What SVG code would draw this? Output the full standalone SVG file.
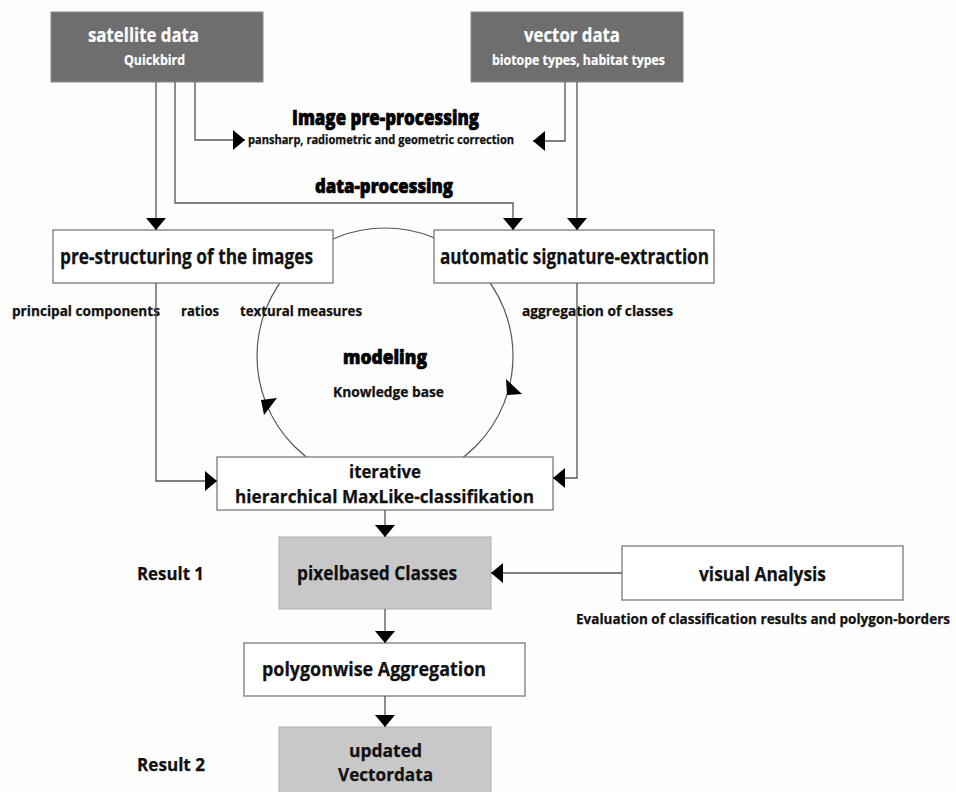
<svg xmlns="http://www.w3.org/2000/svg" width="956" height="792" viewBox="0 0 956 792">
  <defs>
    <marker id="arrow" viewBox="0 0 12 20" refX="12" refY="10" markerWidth="12" markerHeight="20" markerUnits="userSpaceOnUse" orient="auto">
      <path d="M0,0 L12,10 L0,20 z" fill="#000"/>
    </marker>
    <style>
      text { font-family: "Open Sans", "Liberation Sans", sans-serif; font-weight: 700; fill: #111; stroke: #111; stroke-width: 0.25; }
      .src { fill: #6e6e6e; stroke: #8a8a8a; stroke-width: 1; }
      .box { fill: #fff; stroke: #7a7a7a; stroke-width: 1.3; }
      .res { fill: #c8c8c8; stroke: #b0b0b0; stroke-width: 1; }
      text.wt { fill: #fff; stroke: #fff; stroke-width: 0.2; }
      text.h { font-weight: 800; fill: #000; stroke: #000; stroke-width: 0.7; }
      .conn { fill: none; stroke: #555; stroke-width: 1.3; marker-end: url(#arrow); }
      .ring { fill: none; stroke: #555; stroke-width: 1.2; }
    </style>
  </defs>
  <rect width="956" height="792" fill="#fdfdfd"/>

  <!-- modeling cycle (partly hidden behind the boxes) -->
  <g id="cycle">
    <circle class="ring" cx="385" cy="356" r="128"/>
    <polygon points="261,400 277,398 264,415" fill="#000"/>
    <polygon points="506,379 522,394 507,395" fill="#000"/>
  </g>

  <g id="satellite">
    <rect class="src" x="51" y="12" width="212" height="70"/>
    <text class="wt" x="88" y="42" font-size="19" textLength="111" lengthAdjust="spacingAndGlyphs">satellite data</text>
    <text class="wt" x="124" y="65" font-size="13.5" textLength="61" lengthAdjust="spacingAndGlyphs">Quickbird</text>
  </g>

  <g id="vector">
    <rect class="src" x="471" y="12" width="212" height="70"/>
    <text class="wt" x="524" y="42" font-size="19" textLength="96" lengthAdjust="spacingAndGlyphs">vector data</text>
    <text class="wt" x="492" y="65" font-size="13.5" textLength="173" lengthAdjust="spacingAndGlyphs">biotope types, habitat types</text>
  </g>

  <g id="preprocessing">
    <text class="h" x="292" y="125" font-size="21" textLength="187" lengthAdjust="spacingAndGlyphs">Image pre-processing</text>
    <text x="248" y="144" font-size="12" textLength="266" lengthAdjust="spacingAndGlyphs">pansharp, radiometric and geometric correction</text>
  </g>

  <g id="dataprocessing">
    <text class="h" x="315" y="193" font-size="20" textLength="138" lengthAdjust="spacingAndGlyphs">data-processing</text>
  </g>

  <g id="prestructuring">
    <rect class="box" x="53" y="230" width="280" height="53"/>
    <text x="60" y="264" font-size="20.5" textLength="253" lengthAdjust="spacingAndGlyphs">pre-structuring of the images</text>
  </g>

  <g id="signature">
    <rect class="box" x="434" y="230" width="280" height="53"/>
    <text x="440" y="264" font-size="20.5" textLength="269" lengthAdjust="spacingAndGlyphs">automatic signature-extraction</text>
  </g>

  <g id="features">
    <text x="12" y="316" font-size="13.5" textLength="148" lengthAdjust="spacingAndGlyphs">principal components</text>
    <text x="181" y="316" font-size="13.5" textLength="38" lengthAdjust="spacingAndGlyphs">ratios</text>
    <text x="240" y="316" font-size="13.5" textLength="122" lengthAdjust="spacingAndGlyphs">textural measures</text>
    <text x="522" y="316" font-size="13.5" textLength="151" lengthAdjust="spacingAndGlyphs">aggregation of classes</text>
  </g>

  <g id="modeling">
    <text class="h" x="343" y="364" font-size="20" textLength="84" lengthAdjust="spacingAndGlyphs">modeling</text>
    <text x="333" y="397" font-size="13.5" textLength="111" lengthAdjust="spacingAndGlyphs">Knowledge base</text>
  </g>

  <g id="classification">
    <rect class="box" x="217" y="457" width="336" height="53"/>
    <text x="349" y="478" font-size="18" textLength="72" lengthAdjust="spacingAndGlyphs">iterative</text>
    <text x="235" y="503" font-size="18.5" textLength="299" lengthAdjust="spacingAndGlyphs">hierarchical MaxLike-classifikation</text>
  </g>

  <g id="pixelclasses">
    <rect class="res" x="279" y="537" width="212" height="72"/>
    <text x="297" y="580" font-size="19.5" textLength="160" lengthAdjust="spacingAndGlyphs">pixelbased Classes</text>
    <text x="137" y="580" font-size="18" textLength="67" lengthAdjust="spacingAndGlyphs">Result 1</text>
  </g>

  <g id="visual">
    <rect class="box" x="622" y="546" width="281" height="54"/>
    <text x="699" y="581" font-size="19.5" textLength="127" lengthAdjust="spacingAndGlyphs">visual Analysis</text>
    <text x="576" y="624" font-size="14" textLength="374" lengthAdjust="spacingAndGlyphs">Evaluation of classification results and polygon-borders</text>
  </g>

  <g id="aggregation">
    <rect class="box" x="244" y="643" width="281" height="53"/>
    <text x="262" y="676" font-size="19.5" textLength="224" lengthAdjust="spacingAndGlyphs">polygonwise Aggregation</text>
  </g>

  <g id="vectordata">
    <rect class="res" x="279" y="727" width="212" height="80"/>
    <text x="349" y="757" font-size="18" textLength="73" lengthAdjust="spacingAndGlyphs">updated</text>
    <text x="338" y="781" font-size="18.5" textLength="95" lengthAdjust="spacingAndGlyphs">Vectordata</text>
    <text x="137" y="771" font-size="18" textLength="68" lengthAdjust="spacingAndGlyphs">Result 2</text>
  </g>

  <g id="connectors">
    <path class="conn" d="M156,82 V230"/>
    <path class="conn" d="M175,82 V203 H513 V230"/>
    <path class="conn" d="M195,82 V140 H245"/>
    <path class="conn" d="M565,82 V141 H533"/>
    <path class="conn" d="M577,82 V230"/>
    <path class="conn" d="M156,283 V481 H217"/>
    <path class="conn" d="M577,283 V478 H553"/>
    <path class="conn" d="M385,510 V537"/>
    <path class="conn" d="M622,573 H491"/>
    <path class="conn" d="M385,609 V643"/>
    <path class="conn" d="M385,696 V727"/>
  </g>
</svg>
